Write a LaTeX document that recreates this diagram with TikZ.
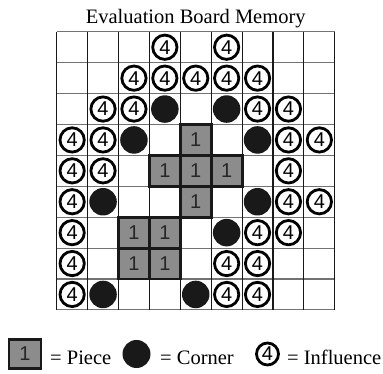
\documentclass[tikz,border=0pt]{standalone}
\usepackage{fontspec}
\setmainfont{Liberation Serif}
\setsansfont{Liberation Sans}
\begin{document}
\begin{tikzpicture}[x=1pt,y=1pt,
	vline/.style={black!90, line width=1.1pt},
	hline/.style={black!55, line width=1.1pt},
	piece/.style={draw=black!90, line width=2.9pt, fill=black!45, minimum size=30.9pt, inner sep=0pt, text=black!85, font=\sffamily\fontsize{20}{20}\selectfont},
	corner/.style={circle, fill=black!90, minimum size=27.5pt, inner sep=0pt},
	influence/.style={circle, draw=black, line width=2.8pt, fill=white, minimum size=24.3pt, inner sep=0pt, font=\sffamily\fontsize{20}{20}\selectfont},
	keytext/.style={anchor=base west, inner sep=0pt, font=\fontsize{20.5}{24}\selectfont}]
	
	\useasboundingbox (0,0) rectangle (383,374);
	
	% Title
	\node[anchor=base, inner sep=0pt, font=\fontsize{20.5}{24}\selectfont] (title) at (195.7,350) {Evaluation Board Memory};
	
	% Board (rows counted from the top)
	\begin{scope}[shift={(56.7,342.2)}, x=30.9pt, y=-30.9pt]
		% Grid lines
		\foreach \i in {0,...,9} \draw[hline] (0,\i) -- (9,\i);
		\foreach \i in {0,...,9} \draw[vline] (\i,0) -- (\i,9);
		
		% Influence cells
		\foreach \r/\c in {1/4,1/6, 2/3,2/4,2/5,2/6,2/7, 3/2,3/3,3/7,3/8,
			4/1,4/2,4/8,4/9, 5/1,5/2,5/8, 6/1,6/8,6/9, 7/1,7/7,7/8,
			8/1,8/6,8/7, 9/1,9/6,9/7}
			\node[influence] (inf-\r-\c) at (\c-0.5,\r-0.5) {4};
		
		% Corner cells
		\foreach \r/\c in {3/4,3/6, 4/3,4/7, 6/2,6/7, 7/6, 9/2,9/5}
			\node[corner] (cor-\r-\c) at (\c-0.5,\r-0.5) {};
		
		% Piece cells
		\foreach \r/\c in {4/5, 5/4,5/5,5/6, 6/5, 7/3,7/4, 8/3,8/4}
			\node[piece] (pc-\r-\c) at (\c-0.5,\r-0.5) {1};
	\end{scope}
	
	% Legend
	\node[piece, minimum width=32pt, minimum height=29pt] (keyPiece) at (25,20) {1};
	\node[keytext] (keyPieceText) at (50,9) {= Piece};
	\node[corner, minimum size=28pt] (keyCorner) at (136.5,20) {};
	\node[keytext] (keyCornerText) at (160,9) {= Corner};
	\node[influence, minimum size=22pt] (keyInf) at (267.5,20) {4};
	\node[keytext] (keyInfText) at (287,9) {= Influence};
	
\end{tikzpicture}
\end{document}
